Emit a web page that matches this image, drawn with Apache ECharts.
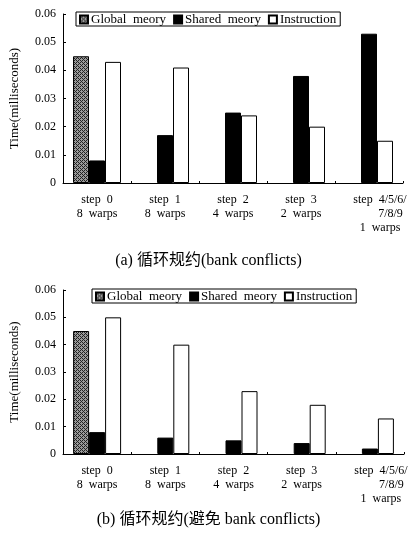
<!DOCTYPE html>
<html>
<head>
<meta charset="utf-8">
<script src="https://cdn.jsdelivr.net/npm/echarts@6/dist/echarts.min.js"></script>
<style>html,body{margin:0;padding:0;background:#fff;}#c{width:417px;height:536px;}</style>
</head>
<body>
<div id="c"></div>
<script>
var categories = ['step  0\n8  warps', 'step  1\n8  warps', 'step  2\n4  warps', 'step  3\n2  warps', 'step  4/5/6/\n       7/8/9\n1  warps'];
var seriesNames = ['Global  meory', 'Shared  meory', 'Instruction'];
var yTicks = [0, 0.01, 0.02, 0.03, 0.04, 0.05, 0.06];
// (a) with bank conflicts
var aGlobal = [0.045, null, null, null, null];
var aShared = [0.008, 0.017, 0.025, 0.038, 0.053];
var aInstr  = [0.043, 0.041, 0.024, 0.020, 0.015];
// (b) avoiding bank conflicts
var bGlobal = [0.045, null, null, null, null];
var bShared = [0.008, 0.006, 0.005, 0.004, 0.002];
var bInstr  = [0.050, 0.040, 0.023, 0.018, 0.013];
var titleA = '(a) 循环规约(bank conflicts)';
var titleB = '(b) 循环规约(避免 bank conflicts)';

var FONT = '"Liberation Serif", "DejaVu Serif", "Noto Sans CJK SC", serif';

// hatched pattern for Global memory
var pc = document.createElement('canvas');
pc.width = 4; pc.height = 4;
var g = pc.getContext('2d');
g.fillStyle = '#9a9a9a'; g.fillRect(0, 0, 4, 4);
g.fillStyle = '#222';
g.fillRect(0, 0, 1, 1); g.fillRect(1, 1, 1, 1); g.fillRect(2, 2, 1, 1); g.fillRect(3, 3, 1, 1);
g.fillRect(2, 0, 1, 1); g.fillRect(0, 2, 1, 1);
var hatch = { image: pc, repeat: 'repeat' };

var chart = echarts.init(document.getElementById('c'), null, { renderer: 'canvas' });

function catData() {
  return categories.map(function (c, i) {
    return i === categories.length - 1 ? { value: c, textStyle: { padding: [0, 0, 0, 22] } } : c;
  });
}
function xAxis(gi) {
  return {
    type: 'category', gridIndex: gi, data: catData(),
    axisLine: { lineStyle: { color: '#000', width: 1 } },
    axisTick: { show: true, inside: true, length: 2, lineStyle: { color: '#000' } },
    axisLabel: { color: '#000', fontFamily: FONT, fontSize: 12, lineHeight: 14, margin: 10, interval: 0 }
  };
}
function yAxis(gi) {
  return {
    type: 'value', gridIndex: gi, min: 0, max: 0.06, interval: 0.01,
    name: 'Time(milliseconds)', nameLocation: 'middle', nameGap: 42,
    nameTextStyle: { color: '#000', fontFamily: FONT, fontSize: 13 },
    axisLine: { show: true, lineStyle: { color: '#000', width: 1 } },
    axisTick: { show: true, inside: true, length: 3, lineStyle: { color: '#000' } },
    splitLine: { show: false },
    axisLabel: { color: '#000', fontFamily: FONT, fontSize: 12, margin: 7,
      formatter: function (v) { var i = yTicks.indexOf(Math.round(v * 100) / 100); return i >= 0 ? String(yTicks[i]) : ''; } }
  };
}
function bar(name, data, gi, color) {
  return {
    type: 'bar', name: name, data: data, xAxisIndex: gi, yAxisIndex: gi,
    barWidth: 16, barGap: '0%',
    itemStyle: { color: color, borderColor: '#000', borderWidth: 1 },
    emphasis: { disabled: true }
  };
}
function legend(left, top) {
  return {
    left: left, top: top, data: seriesNames, orient: 'horizontal',
    icon: 'rect', itemWidth: 8, itemHeight: 8, itemGap: 7,
    padding: [1, 4, 0, 3], borderColor: '#000', borderWidth: 1, backgroundColor: '#fff',
    textStyle: { color: '#000', fontFamily: FONT, fontSize: 13, padding: [0, 0, 0, -2] },
    selectedMode: false
  };
}

chart.setOption({
  animation: false,
  backgroundColor: '#fff',
  color: [hatch, '#000', '#fff'],
  title: [
    { text: titleA, left: 'center', top: 248, textStyle: { color: '#000', fontFamily: FONT, fontSize: 16, fontWeight: 'normal' } },
    { text: titleB, left: 'center', top: 507, textStyle: { color: '#000', fontFamily: FONT, fontSize: 16, fontWeight: 'normal' } }
  ],
  legend: [legend(76, 12), legend(92, 289)],
  grid: [
    { left: 58, right: 14, top: 14, bottom: 353 },
    { left: 59, right: 13, top: 290, bottom: 82 }
  ],
  xAxis: [xAxis(0), xAxis(1)],
  yAxis: [yAxis(0), yAxis(1)],
  series: [
    bar(seriesNames[0], aGlobal, 0, hatch),
    bar(seriesNames[1], aShared, 0, '#000'),
    bar(seriesNames[2], aInstr, 0, '#fff'),
    bar(seriesNames[0], bGlobal, 1, hatch),
    bar(seriesNames[1], bShared, 1, '#000'),
    bar(seriesNames[2], bInstr, 1, '#fff')
  ]
});
</script>
</body>
</html>
